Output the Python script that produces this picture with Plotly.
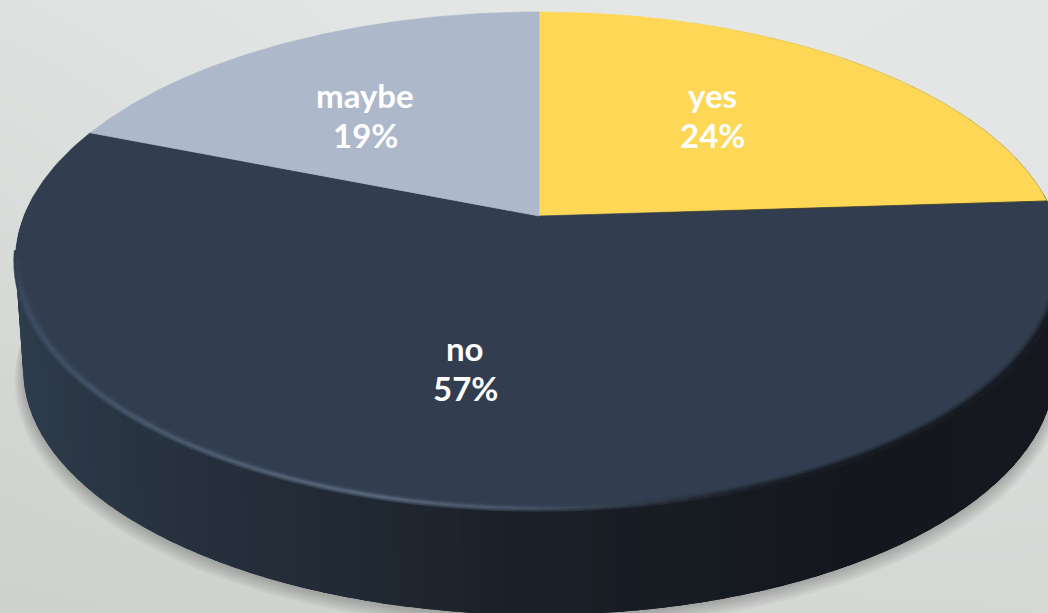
import numpy as np
import plotly.graph_objects as go

# Chart content
categories = ["yes", "no", "maybe"]
shares = [24, 57, 19]
slice_colors = ["#fdd755", "#323e4f", "#adb9ca"]

# Label anchors (first line) in the plot's pixel-sized coordinate system
label_x = [712, 465, 365]
label_y = [95, 348, 95]
LINE_GAP = 40

# Disc projection: centre, semi-axes, perspective strength, thickness
CX, CY = 539.0, 216.0
AX, BY = 515.0, 241.0
PERSP = 0.181
DEPTH = 109.0
BASE_SCALE = 0.985

# Backdrop greys on a coarse grid
bg_x = [0, 350, 700, 1048]
bg_y = [0, 200, 400, 613]
bg_grey = [
    [224, 228, 230, 229],
    [219, 225, 229, 228],
    [212, 217, 223, 219],
    [207, 209, 213, 214],
]

# Side wall shading, left to right
wall_x = [0, 60, 200, 350, 500, 700, 850, 1048]
wall_rgb = [
    (48, 62, 79), (44, 57, 72), (38, 48, 60), (33, 41, 52),
    (27, 33, 41), (23, 27, 34), (20, 23, 29), (21, 24, 30),
]

# Rim highlight colour, left to right
rim_x = [0, 30, 120, 250, 380, 500, 620, 720, 800, 1048]
rim_rgb = [
    (60, 77, 100), (64, 80, 103), (76, 92, 113), (88, 104, 124), (98, 113, 134),
    (80, 94, 114), (54, 64, 78), (34, 40, 50), (24, 28, 35), (22, 25, 31),
]


def project(theta, r=1.0, drop=0.0, scale=1.0):
    """Map a clockwise-from-top angle and radius onto the tilted disc."""
    u, v = r * np.sin(theta), r * np.cos(theta)
    den = 1 + PERSP * v
    return CX + scale * AX * u / den, CY + drop - scale * BY * v / den


def rgb(c):
    return "rgb(%d,%d,%d)" % tuple(int(round(x)) for x in c)


def ramp(x, xs, colours):
    arr = np.array(colours, dtype=float)
    return [np.interp(x, xs, arr[:, i]) for i in range(3)]


def mix(a, b, t):
    return [p + (q - p) * t for p, q in zip(a, b)]


def poly(xs, ys, fill, line=None, width=0.6):
    return go.Scatter(
        x=list(xs), y=list(ys), mode="lines", fill="toself", fillcolor=fill,
        line=dict(color=line or fill, width=width), hoverinfo="skip", showlegend=False,
    )


fig = go.Figure()

# Backdrop, lightly tinted towards green in the darker corners
fig.add_trace(go.Heatmap(
    x=bg_x, y=bg_y, z=bg_grey, zsmooth="best", zmin=195, zmax=235,
    colorscale=[[0, "rgb(194,197,192)"], [1, "rgb(234,236,236)"]],
    showscale=False, hoverinfo="skip",
))

# Soft cast shadow under the base
circle = np.linspace(0, 2 * np.pi, 361)
for i in range(8):
    sx, sy = project(circle, drop=DEPTH + 1.5 + i * 1.2, scale=BASE_SCALE + i * 0.0024)
    fig.add_trace(poly(sx, sy, "rgba(40,40,35,0.034)", "rgba(0,0,0,0)", 0))

# Side wall: overlapping wedges painted from left to right so no seams show
wall_angles = np.radians(np.linspace(275, 85, 96))
for a0, a1 in zip(wall_angles[:-1], wall_angles[1:]):
    span = np.linspace(a0, 85 * np.pi / 180 if a1 < 1.6 else a1 - (a0 - a1) * 1.5, 4)
    tx, ty = project(span)
    bx, by = project(span[::-1], drop=DEPTH, scale=BASE_SCALE)
    xa, _ = project(np.array([(a0 + a1) / 2]), drop=DEPTH, scale=BASE_SCALE)
    colour = rgb(ramp(xa[0], wall_x, wall_rgb))
    fig.add_trace(poly(np.r_[tx, bx, tx[0]], np.r_[ty, by, ty[0]], colour, width=0))

# Top face slices, clockwise from twelve o'clock
edges = np.cumsum([0] + shares) / sum(shares) * 2 * np.pi
for k, name in enumerate(categories):
    arc = np.linspace(edges[k], edges[k + 1], 200)
    ax, ay = project(arc)
    fig.add_trace(poly(np.r_[CX, ax, CX], np.r_[CY, ay, CY], slice_colors[k]))

# Dark fringe around the yellow slice, growing towards its far corner
fringe_steps = np.linspace(edges[0] + 0.35, edges[1], 7)
for step, (f0, f1) in enumerate(zip(fringe_steps[:-1], fringe_steps[1:])):
    ax, ay = project(np.linspace(f0, f1 + 0.01, 30))
    fig.add_trace(go.Scatter(x=ax, y=ay, mode="lines", hoverinfo="skip", showlegend=False,
                             line=dict(color=f"rgba(110,100,50,{0.06 + step * 0.06:.2f})", width=1)))
ex, ey = project(np.array([edges[1]]))
fig.add_trace(go.Scatter(x=[CX + 120, ex[0]], y=[CY - 3, ey[0]], mode="lines", hoverinfo="skip",
                         showlegend=False, line=dict(color="rgba(70,66,40,0.7)", width=1)))

# Bevel along the front rim of the top face
top_rgb = (50, 62, 79)
radii = np.array([0.984, 0.988, 0.991, 0.994, 0.997, 1.0, 1.003])
weights = [0.12, 0.35, 0.65, 0.9, 1.0, 0.8, 0.4]
rim_angles = np.radians(np.linspace(98, 262, 83))
for j in range(len(radii) - 1):
    for a0, a1 in zip(rim_angles[:-1], rim_angles[1:]):
        seg = np.array([a0, a1])
        ox, oy = project(seg, r=radii[j + 1])
        ix, iy = project(seg[::-1], r=radii[j])
        xm = ox.mean()
        fade = min(1.0, min(np.degrees(a0) - 98, 262 - np.degrees(a1)) / 14 + 0.1)
        colour = mix(top_rgb, ramp(xm, rim_x, rim_rgb), weights[j] * fade)
        if j >= 4:
            colour = mix(colour, ramp(xm, wall_x, wall_rgb), (j - 3) * 0.22)
        fig.add_trace(poly(np.r_[ox, ix, ox[0]], np.r_[oy, iy, oy[0]], rgb(colour), width=0.5))

# Slice labels: name above percentage
for name, value, lx, ly in zip(categories, shares, label_x, label_y):
    for offset, line in enumerate([name, f"{value}%"]):
        fig.add_annotation(
            x=lx, y=ly + offset * LINE_GAP, text=line, showarrow=False,
            font=dict(family="Lato", size=33, color="white", weight=700),
            align="center",
        )

fig.update_xaxes(range=[0, 1048], visible=False, fixedrange=True)
fig.update_yaxes(range=[613, 0], visible=False, fixedrange=True)
fig.update_layout(
    width=1048, height=613, margin=dict(l=0, r=0, t=0, b=0),
    paper_bgcolor="#dfe1e0", plot_bgcolor="#dfe1e0", showlegend=False,
)
fig.write_html("out.html", config={"displayModeBar": False})
